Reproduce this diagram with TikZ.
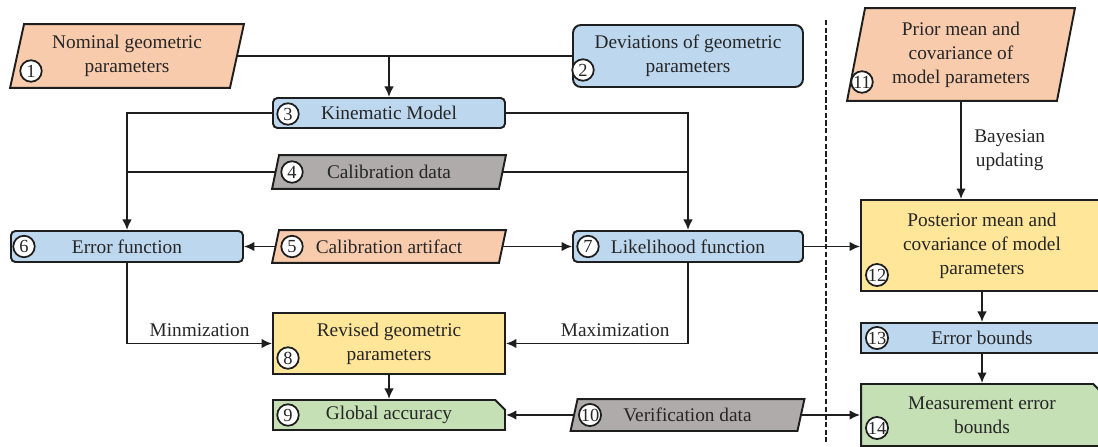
\documentclass[tikz,border=0pt]{standalone}
\usepackage{fontspec}
\setmainfont{Liberation Serif}
\usetikzlibrary{arrows.meta,shapes.misc,backgrounds}

\definecolor{cOrange}{HTML}{F8CBAD}
\definecolor{cBlue}{HTML}{BDD7EE}
\definecolor{cGray}{HTML}{AFABAB}
\definecolor{cYellow}{HTML}{FFE699}
\definecolor{cGreen}{HTML}{C5E0B4}
\definecolor{cLine}{HTML}{1E1E1E}
\definecolor{cText}{HTML}{262626}

\tikzset{
  txt/.style={font=\fontsize{11}{13.6}\selectfont, text=cText},
  box/.style={txt, draw=cLine, line width=1.1pt, inner sep=0pt, align=center},
  rbox/.style={box, rectangle, rounded corners=2.5pt, fill=cBlue},
  sbox/.style={box, rectangle},
  cbox/.style={box, chamfered rectangle, chamfered rectangle corners=north east,
    chamfered rectangle xsep=2.8pt, chamfered rectangle ysep=2.8pt, fill=cGreen},
  pbox/.style={box, rectangle, draw=none},
  badge/.style={circle, draw=cLine, fill=white, line width=1pt, inner sep=0pt,
    minimum size=0.43cm, text=cText, font=\fontsize{10.5}{11}\selectfont},
  link/.style={draw=cLine, line width=1.1pt},
  arr/.style={link, -{Latex[length=6pt,width=5.5pt]}},
  lbl/.style={txt, inner sep=0pt},
  divider/.style={draw=cLine, line width=1pt, dash pattern=on 3pt off 1.4pt}
}

% slanted data box drawn behind a text node: node, fill, half of the slant
\newcommand\slantfill[3]{%
  \filldraw[fill=#2, draw=cLine, line width=1.1pt, line join=miter]
    ([xshift=#3]#1.north west) -- ([xshift=#3]#1.north east)
    -- ([xshift=-#3]#1.south east) -- ([xshift=-#3]#1.south west) -- cycle;}

\begin{document}
\begin{tikzpicture}[x=0.02cm, y=-0.02cm]
\useasboundingbox (0,0) rectangle (1098,446);

% ---------- calibration side ----------
\node[pbox, minimum width=4.36cm, minimum height=1.24cm] (n1) at (127,56)
  {Nominal geometric\\parameters};
\node[rbox, rounded corners=4.5pt, minimum width=4.6cm, minimum height=1.24cm] (n2) at (688,56)
  {Deviations of geometric\\parameters};
\node[rbox, minimum width=4.64cm, minimum height=0.6cm] (n3) at (389,113) {Kinematic Model};
\node[pbox, minimum width=4.5cm, minimum height=0.64cm] (n4) at (389,172) {Calibration data};
\node[pbox, minimum width=4.5cm, minimum height=0.62cm] (n5) at (389,246.5) {Calibration artifact};
\node[rbox, minimum width=4.64cm, minimum height=0.62cm] (n6) at (127,246.5) {Error function};
\node[rbox, minimum width=4.6cm, minimum height=0.62cm] (n7) at (688,246.5) {Likelihood function};
\node[sbox, fill=cYellow, minimum width=4.64cm, minimum height=1.22cm] (n8) at (389,343.5)
  {Revised geometric\\parameters};
\node[cbox, minimum width=4.64cm, minimum height=0.6cm] (n9) at (389,415) {Global accuracy};
\node[pbox, minimum width=4.5cm, minimum height=0.6cm] (n10) at (687.5,415) {Verification data};

% ---------- Bayesian side ----------
\node[pbox, minimum width=4.16cm, minimum height=1.82cm] (n11) at (961,54.5)
  {Prior mean and\\covariance of\\model parameters};
\node[sbox, fill=cYellow, minimum width=4.84cm, minimum height=1.82cm] (n12) at (982,245.5)
  {Posterior mean and\\covariance of model\\parameters};
\node[sbox, fill=cBlue, minimum width=4.84cm, minimum height=0.6cm] (n13) at (982,338) {Error bounds};
\node[cbox, minimum width=4.84cm, minimum height=1.24cm] (n14) at (982,415)
  {Measurement error\\bounds};

\begin{pgfonlayer}{background}
  \slantfill{n1}{cOrange}{0.14cm}
  \slantfill{n4}{cGray}{0.07cm}
  \slantfill{n5}{cOrange}{0.07cm}
  \slantfill{n10}{cGray}{0.07cm}
  \slantfill{n11}{cOrange}{0.18cm}
\end{pgfonlayer}

% numbered badges
\node[badge] (b1) at (31,71) {1};
\node[badge] (b2) at (583,70) {2};
\node[badge] (b3) at (288,114) {3};
\node[badge] (b4) at (292,172) {4};
\node[badge] (b5) at (292,246.5) {5};
\node[badge] (b6) at (24,246.5) {6};
\node[badge] (b7) at (588,246.5) {7};
\node[badge] (b8) at (288,358) {8};
\node[badge] (b9) at (288,415) {9};
\node[badge] (b10) at (590,415) {10};
\node[badge] (b11) at (862,82) {11};
\node[badge] (b12) at (877,275) {12};
\node[badge] (b13) at (877,338) {13};
\node[badge] (b14) at (877,428) {14};

% ---------- connectors ----------
\coordinate (j12) at (n3.north |- n1.east);
\draw[link] (n1.east) -- (n2.west);
\draw[arr] (j12) -- (n3.north);
\draw[arr] (n3.west) -| (n6.north);
\draw[arr] (n3.east) -| (n7.north);
\draw[link] (n4.west) -- (n4.west -| n6.north);
\draw[link] (n4.east) -- (n4.east -| n7.north);
\draw[arr] (n5.west) -- (n6.east);
\draw[arr] (n5.east) -- (n7.west);
\draw[arr] (n7.east) -- (n7.east -| n12.west);
\draw[arr] (n6.south) |- node[lbl, pos=0.75, above=3.5pt] {Minmization} (n8.west);
\draw[arr] (n7.south) |- node[lbl, pos=0.7, above=3.5pt] {Maximization} (n8.east);
\draw[arr] (n8.south) -- (n9.north);
\draw[arr] (n10.west) -- (n9.east);
\draw[arr] (n10.east) -- (n10.east -| n14.west);
\draw[arr] (n11.south) -- node[lbl, right=7pt, align=center] {Bayesian\\updating}
  (n11.south |- n12.north);
\draw[arr] (n12.south) -- (n13.north);
\draw[arr] (n13.south) -- (n14.north);

% divider between the two approaches
\coordinate (dtop) at (826,20);
\coordinate (dbot) at (826,442);
\draw[divider] (dtop) -- (dbot);
\end{tikzpicture}
\end{document}
